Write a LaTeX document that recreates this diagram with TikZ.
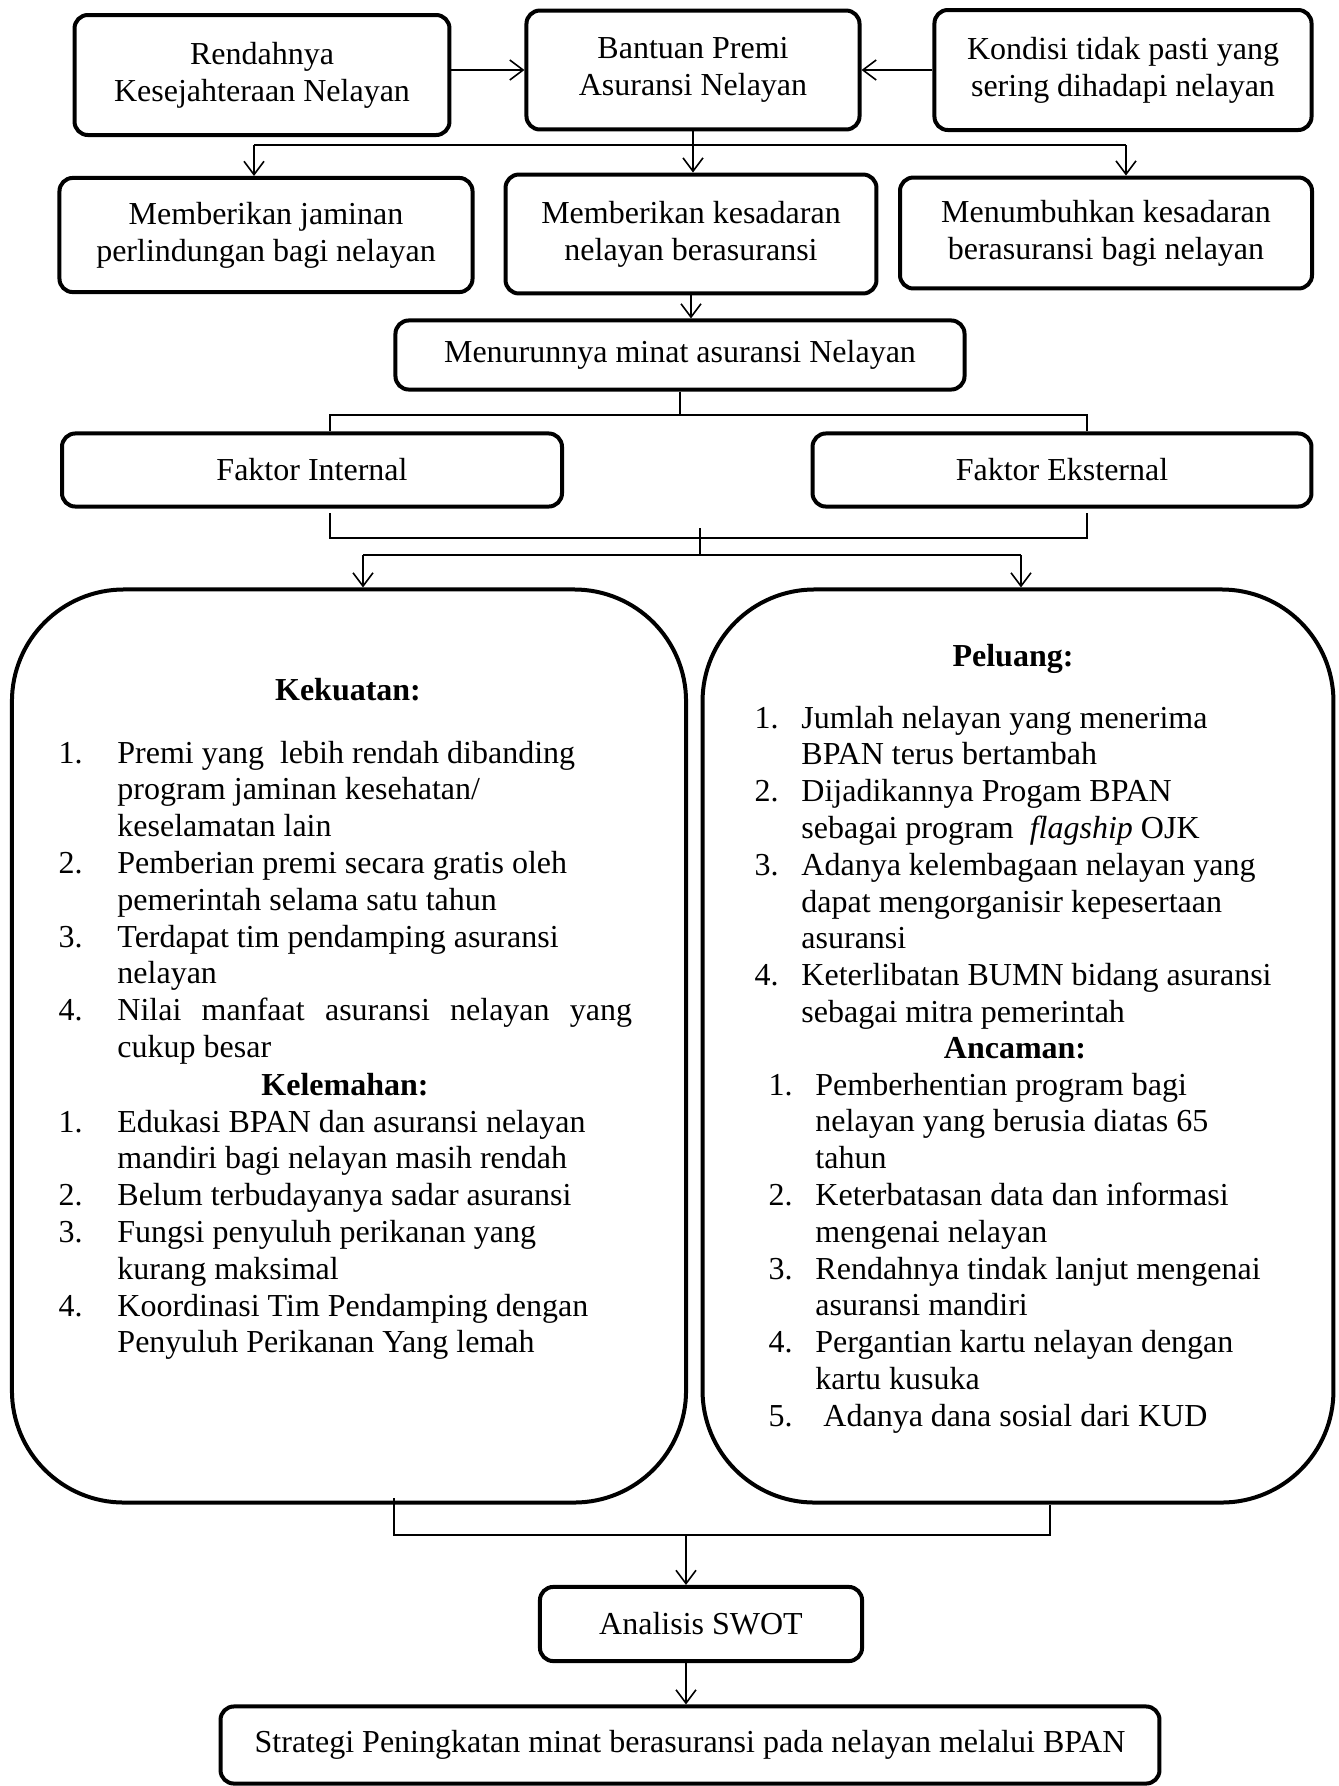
\documentclass[tikz,border=0pt]{standalone}
\usepackage{fontspec}
\setmainfont{Liberation Serif}
\usetikzlibrary{arrows.meta}
\begin{document}
\begin{tikzpicture}[x=0.375pt,y=-0.375pt,
 every node/.style={font=\fontsize{12}{13.8}\selectfont},
 kotak/.style={draw,line width=1.5pt,rounded corners=5pt,align=center,inner sep=2pt},
 besar/.style={draw,line width=1.5pt,rounded corners=42pt},
 garis/.style={line width=0.6pt},
 panah/.style={line width=0.6pt,-{Straight Barb[length=5pt,width=7.5pt]}},
 daftar/.style={anchor=base west,inner sep=0pt},
 judul/.style={anchor=base,inner sep=0pt,font=\fontsize{12}{13.8}\selectfont\bfseries}]
 \useasboundingbox (0,0) rectangle (1338,1786);
 \node[kotak,minimum width=140.6pt,minimum height=45pt] (rendah) at (262,75) {Rendahnya\\Kesejahteraan Nelayan};
 \node[kotak,minimum width=124.9pt,minimum height=44.6pt] (bantuan) at (693,70) {Bantuan Premi\\Asuransi Nelayan};
 \node[kotak,minimum width=141.4pt,minimum height=45pt] (kondisi) at (1123,70) {Kondisi tidak pasti yang\\sering dihadapi nelayan};
 \node[kotak,minimum width=154.9pt,minimum height=42.8pt] (jaminan) at (266,235) {Memberikan jaminan\\perlindungan bagi nelayan};
 \node[kotak,minimum width=139.1pt,minimum height=44.6pt] (kesadaran) at (691,234) {Memberikan kesadaran\\nelayan berasuransi};
 \node[kotak,minimum width=154.5pt,minimum height=41.6pt] (tumbuh) at (1106,233) {Menumbuhkan kesadaran\\berasuransi bagi nelayan};
 \node[kotak,minimum width=213.4pt,minimum height=25.9pt] (minat) at (680,355) {Menurunnya minat asuransi Nelayan};
 \node[kotak,minimum width=187.5pt,minimum height=27.4pt] (internal) at (312,470) {Faktor Internal};
 \node[kotak,minimum width=187.1pt,minimum height=27.4pt] (eksternal) at (1062,470) {Faktor Eksternal};
 \node[besar,minimum width=252.8pt,minimum height=342.4pt] (kiri) at (349,1046) {};
 \node[besar,minimum width=236.6pt,minimum height=342.4pt] (kanan) at (1018,1046) {};
 \node[kotak,minimum width=120.8pt,minimum height=27.8pt] (swot) at (701,1624) {Analisis SWOT};
 \node[kotak,minimum width=352.1pt,minimum height=28.9pt] (strategi) at (690,1745) {Strategi Peningkatan minat berasuransi pada nelayan melalui BPAN};
 \node[judul] (kuatJ) at (348,700) {Kekuatan:};
 \node[daftar] (kuatD) at (58,763) {\begin{tabular}[t]{@{}p{22.1pt}@{}l@{}}
 1. & Premi yang\ \ lebih rendah dibanding\\
  & program jaminan kesehatan/\\
  & keselamatan lain\\
 2. & Pemberian premi secara gratis oleh\\
  & pemerintah selama satu tahun\\
 3. & Terdapat tim pendamping asuransi\\
  & nelayan\\
 4. & \makebox[193pt][s]{Nilai manfaat asuransi nelayan yang}\\
  & cukup besar
 \end{tabular}};
 \node[judul] (lemahJ) at (345,1095) {Kelemahan:};
 \node[daftar] (lemahD) at (58,1132) {\begin{tabular}[t]{@{}p{22.1pt}@{}l@{}}
 1. & Edukasi BPAN dan asuransi nelayan\\
  & mandiri bagi nelayan masih rendah\\
 2. & Belum terbudayanya sadar asuransi\\
 3. & Fungsi penyuluh perikanan yang\\
  & kurang maksimal\\
 4. & Koordinasi Tim Pendamping dengan\\
  & Penyuluh Perikanan Yang lemah
 \end{tabular}};
 \node[judul] (peluangJ) at (1013,666) {Peluang:};
 \node[daftar] (peluangD) at (754,728) {\begin{tabular}[t]{@{}p{17.6pt}@{}l@{}}
 1. & Jumlah nelayan yang menerima\\
  & BPAN terus bertambah\\
 2. & Dijadikannya Progam BPAN\\
  & sebagai program\ \ \textit{flagship} OJK\\
 3. & Adanya kelembagaan nelayan yang\\
  & dapat mengorganisir kepesertaan\\
  & asuransi\\
 4. & Keterlibatan BUMN bidang asuransi\\
  & sebagai mitra pemerintah
 \end{tabular}};
 \node[judul] (ancamJ) at (1015,1058) {Ancaman:};
 \node[daftar] (ancamD) at (768,1095) {\begin{tabular}[t]{@{}p{17.6pt}@{}l@{}}
 1. & Pemberhentian program bagi\\
  & nelayan yang berusia diatas 65\\
  & tahun\\
 2. & Keterbatasan data dan informasi\\
  & mengenai nelayan\\
 3. & Rendahnya tindak lanjut mengenai\\
  & asuransi mandiri\\
 4. & Pergantian kartu nelayan dengan\\
  & kartu kusuka\\
 5. & \ Adanya dana sosial dari KUD
 \end{tabular}};
 \draw[panah] (rendah.east |- bantuan.west) -- (bantuan.west);
 \draw[panah] (kondisi.west) -- (bantuan.east);
 \coordinate (s1) at (254,145);
 \coordinate (s3) at (1126,145);
 \draw[garis] (s1) -- (s3);
 \draw[panah] (s1) -- (s1 |- jaminan.north);
 \draw[panah] (s3) -- (s3 |- tumbuh.north);
 \draw[panah] (bantuan.south) -- (bantuan.south |- kesadaran.north);
 \draw[panah] (kesadaran.south) -- (kesadaran.south |- minat.north);
 \coordinate (t1) at (330,415);
 \coordinate (t2) at (1087,415);
 \draw[garis] (minat.south) -- (minat.south |- t1);
 \draw[garis] (t1 |- internal.north) -- (t1) -- (t2) -- (t2 |- eksternal.north);
 \coordinate (u1) at (330,513);
 \coordinate (u2) at (330,538);
 \coordinate (u3) at (1087,538);
 \coordinate (u4) at (1087,513);
 \draw[garis] (u1) -- (u2) -- (u3) -- (u4);
 \coordinate (c1) at (700,528);
 \coordinate (c2) at (700,555);
 \draw[garis] (c1) -- (c2);
 \coordinate (v1) at (363,555);
 \coordinate (v2) at (1021,555);
 \draw[garis] (v1) -- (v2);
 \draw[panah] (v1) -- (v1 |- kiri.north);
 \draw[panah] (v2) -- (v2 |- kanan.north);
 \coordinate (w1) at (394,1498);
 \coordinate (w2) at (394,1535);
 \coordinate (w3) at (1050,1535);
 \coordinate (w0) at (686,1535);
 \draw[garis] (w1) -- (w2) -- (w3) -- (w3 |- kanan.south);
 \draw[panah] (w0) -- (w0 |- swot.north);
 \draw[panah] (w0 |- swot.south) -- (w0 |- strategi.north);
\end{tikzpicture}
\end{document}
